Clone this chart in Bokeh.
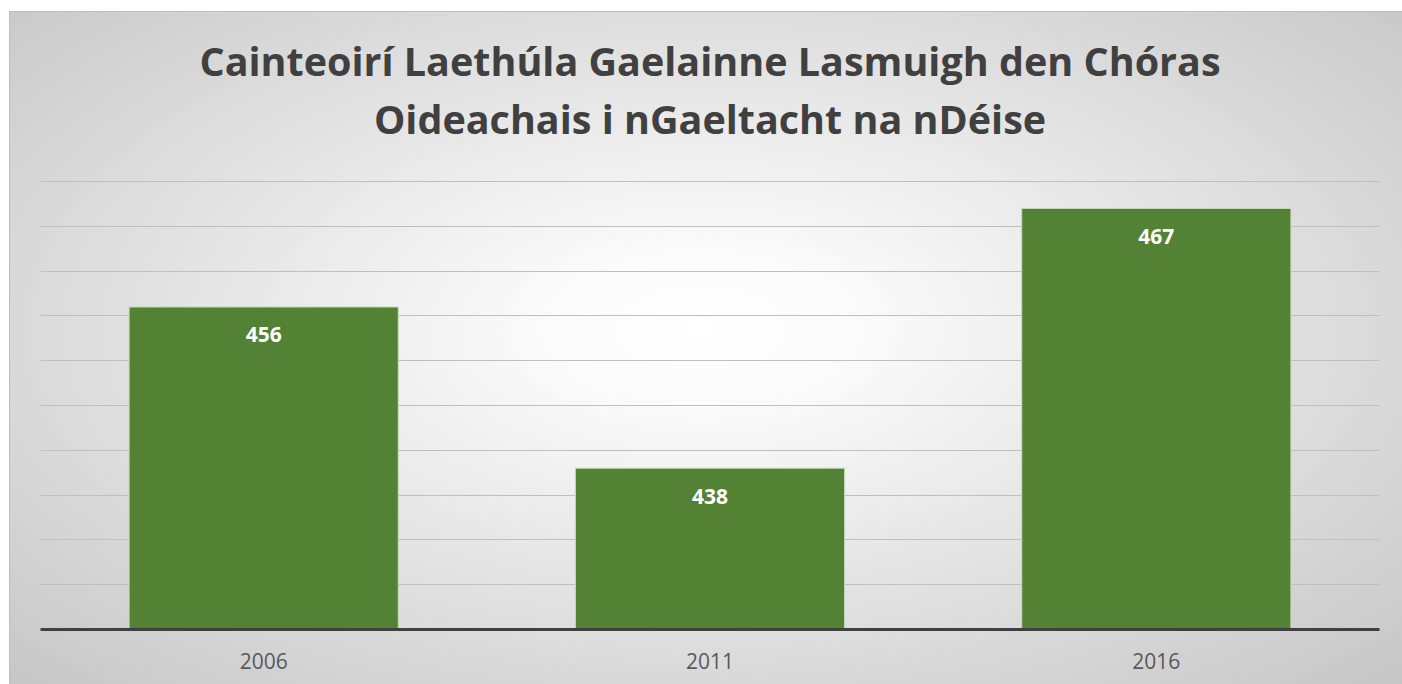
from bokeh.plotting import figure
from bokeh.models import ColumnDataSource, Title, FixedTicker
from bokeh.core.properties import value
from bokeh.embed import file_html
from bokeh.resources import INLINE

years = ["2006", "2011", "2016"]
speakers = [456, 438, 467]
labels = [str(v) for v in speakers]
grid_ticks = [425, 430, 435, 440, 445, 450, 455, 460, 465, 470]

title_line1 = "Cainteoirí Laethúla Gaelainne Lasmuigh den Chóras"
title_line2 = "Oideachais i nGaeltacht na nDéise"

src = ColumnDataSource(dict(x=years, top=speakers, lab=labels))

p = figure(
    x_range=years, y_range=(420, 470.12),
    width=1402, height=684,
    output_backend="svg", toolbar_location=None,
    min_border_left=40, min_border_right=23, min_border_top=180, min_border_bottom=55,
    styles={"background": "radial-gradient(ellipse farthest-corner at 50% 48%, #ffffff 0%, #fbfbfb 15%, #c6c6c6 100%)",
            "box-shadow": "inset 9px 11px 0 0 #ffffff, inset 10px 12px 0 0 #bdbdbd"},
)
p.background_fill_alpha = 0
p.border_fill_alpha = 0
p.outline_line_color = None

# spacer between the title and the plot frame
p.add_layout(Title(text=" ", align="center", text_font="Open Sans",
                   text_font_size="10px", standoff=19), "above")
p.add_layout(Title(text=title_line2, align="center", text_font="Open Sans",
                   text_font_size="39.5px", text_font_style="bold", text_color="#404040",
                   standoff=0), "above")
p.add_layout(Title(text=title_line1, align="center", text_font="Open Sans",
                   text_font_size="39.5px", text_font_style="bold", text_color="#404040",
                   standoff=4), "above")

p.vbar(x="x", top="top", bottom=420, width=0.603, source=src,
       fill_color="#548235", line_color="#c5d8b8", line_width=1)

p.text(x="x", y="top", text="lab", source=src, y_offset=28,
       text_font=value("Open Sans"), text_font_style="bold", text_font_size="21px",
       text_color="#ffffff", text_align="center", text_baseline="middle")

p.yaxis.visible = False
p.xgrid.visible = False
p.ygrid.ticker = FixedTicker(ticks=grid_ticks)
p.ygrid.grid_line_color = "#bfbfbf"
p.ygrid.grid_line_width = 1

p.xaxis.axis_line_color = "#404040"
p.xaxis.axis_line_width = 3
p.xaxis.major_tick_line_color = None
p.xaxis.minor_tick_line_color = None
p.xaxis.major_label_text_font = "Open Sans"
p.xaxis.major_label_text_font_size = "21px"
p.xaxis.major_label_text_color = "#595959"
p.xaxis.major_label_standoff = 17

open("out.html", "w").write(file_html(p, INLINE))
